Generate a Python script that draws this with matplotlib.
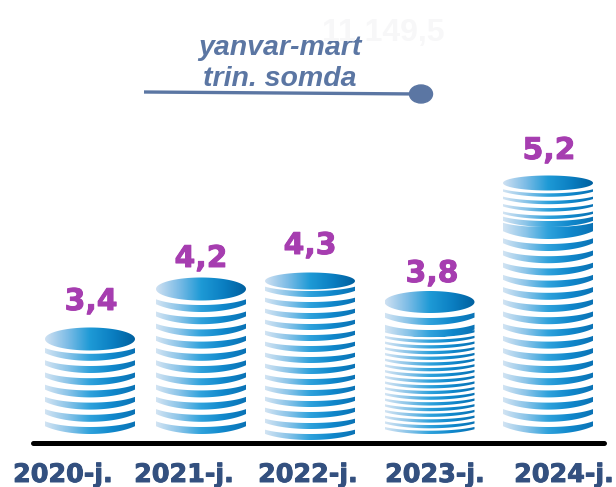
import matplotlib
matplotlib.use("Agg")
import matplotlib.pyplot as plt
import matplotlib.patheffects as pe
from matplotlib.colors import LinearSegmentedColormap
from matplotlib.path import Path
from matplotlib.patches import Ellipse
import numpy as np

years = ["2020-j.", "2021-j.", "2022-j.", "2023-j.", "2024-j."]
values = ["3,4", "4,2", "4,3", "3,8", "5,2"]

FW = 90
stack_x = [90, 201, 310, 429.5, 548]
year_x = [63, 184, 308, 435, 564]
label_x = [91, 201, 310, 432, 549]
label_y = [310, 267, 254, 282, 159]
# top disc: centre y, half height
top_disc = [(339, 11.5), (289, 11.5), (281, 8.5), (302, 11), (183, 7.5)]
# ring runs, bottom-up: first bottom y, count, step, half height, thickness
ring_runs = [
    [(434, 7, 12.2, 11.5, 7)],
    [(434, 11, 12.2, 11.5, 7)],
    [(440, 14, 11.0, 9, 6)],
    [(434, 18, 5.7, 7, 3.3), (337, 1, 0, 11, 7), (325, 1, 0, 11, 7)],
    [(434, 16, 12.2, 11.5, 7), (239, 1, 0, 11.5, 12), (227, 1, 0, 9, 6),
     (219, 4, 7.4, 7.5, 3.5)],
]

BLUE_TEXT = "#33507F"
PURPLE = "#A63DB0"
SLATE = "#5B76A3"
top_cmap = LinearSegmentedColormap.from_list(
    "top", ["#CFE1F2", "#7DBCE6", "#1E9AD6", "#0B7FC2", "#00609F"])
ring_cmap = LinearSegmentedColormap.from_list(
    "ring", ["#D3E4F3", "#8CC5E9", "#2FA2DC", "#1088CC", "#0A72B5"])
grad = np.linspace(0, 1, 256).reshape(1, -1)


def ring_path(cx, bottom, ry, thick):
    # arc of a wider ellipse, cut at the stack edge, so the tips stay open
    u = np.linspace(-1, 1, 60)
    arc = np.sqrt(1 - (u / 1.25) ** 2)
    xs = cx + FW / 2 * u
    lower = bottom - 1.7 * ry * (1 - arc)
    upper = lower - thick * (0.7 + 0.3 * (1 - u ** 2))
    pts = np.vstack([np.column_stack([xs, lower]),
                     np.column_stack([xs, upper])[::-1]])
    pts = np.vstack([pts, pts[:1]])
    return Path(pts, closed=True)


def disc_path(cx, cy, ry):
    t = np.linspace(0, 2 * np.pi, 100)
    return Path(np.column_stack([cx + FW / 2 * np.cos(t), cy + ry * np.sin(t)]), closed=True)


def draw_gradient(ax, cx, y0, y1, cmap, path):
    im = ax.imshow(grad, cmap=cmap, extent=(cx - FW / 2, cx + FW / 2, y1, y0),
                   aspect="auto", interpolation="bilinear", zorder=2)
    im.set_clip_path(path, transform=ax.transData)


fig = plt.figure(figsize=(6.16, 4.87), dpi=100)
ax = fig.add_axes([0, 0, 1, 1])
ax.axis("off")

for cx, (cy, ry), runs in zip(stack_x, top_disc, ring_runs):
    rings = []
    for start, count, step, h, thick in runs:
        for k in range(count):
            rings.append(ring_path(cx, start - k * step, h, thick))
    draw_gradient(ax, cx, cy - 5, 445, ring_cmap, Path.make_compound_path(*rings))
    draw_gradient(ax, cx, cy - ry - 1, cy + ry + 1, top_cmap, disc_path(cx, cy, ry))

# baseline
ax.plot([33, 604], [443, 443], color="black", lw=3.6, solid_capstyle="round", zorder=3)

# value labels and years
for x, y, v in zip(label_x, label_y, values):
    t = ax.text(x, y, v, color=PURPLE, fontsize=21.5, fontweight="bold", family="DejaVu Sans",
                ha="center", va="baseline", zorder=4)
    t.set_path_effects([pe.withStroke(linewidth=0.7, foreground=PURPLE)])
for x, yr in zip(year_x, years):
    t = ax.text(x, 482, yr, color=BLUE_TEXT, fontsize=18.3, fontweight="bold", family="DejaVu Sans",
                ha="center", va="baseline", zorder=4)
    t.set_path_effects([pe.withStroke(linewidth=0.7, foreground=BLUE_TEXT)])

# period note
ax.plot([144, 420], [92, 94], color=SLATE, lw=2.4, solid_capstyle="butt", zorder=3)
ax.add_patch(Ellipse((421, 94), 23, 18, color=SLATE, zorder=3))
ax.text(280, 55, "yanvar-mart", color=SLATE, fontsize=20.5, fontweight="bold", style="italic",
        family="Liberation Sans", ha="center", va="baseline", zorder=3)
ax.text(280, 86, "trin. somda", color=SLATE, fontsize=20.5, fontweight="bold", style="italic",
        family="Liberation Sans", ha="center", va="baseline", zorder=3)
ax.text(383, 41, "11 149,5", color="#F7F7F8", fontsize=23, fontweight="bold",
        family="Liberation Sans", ha="center", va="baseline", zorder=5)

ax.set_xlim(0, 616)
ax.set_ylim(487, 0)
fig.savefig("out.png", dpi=100)
